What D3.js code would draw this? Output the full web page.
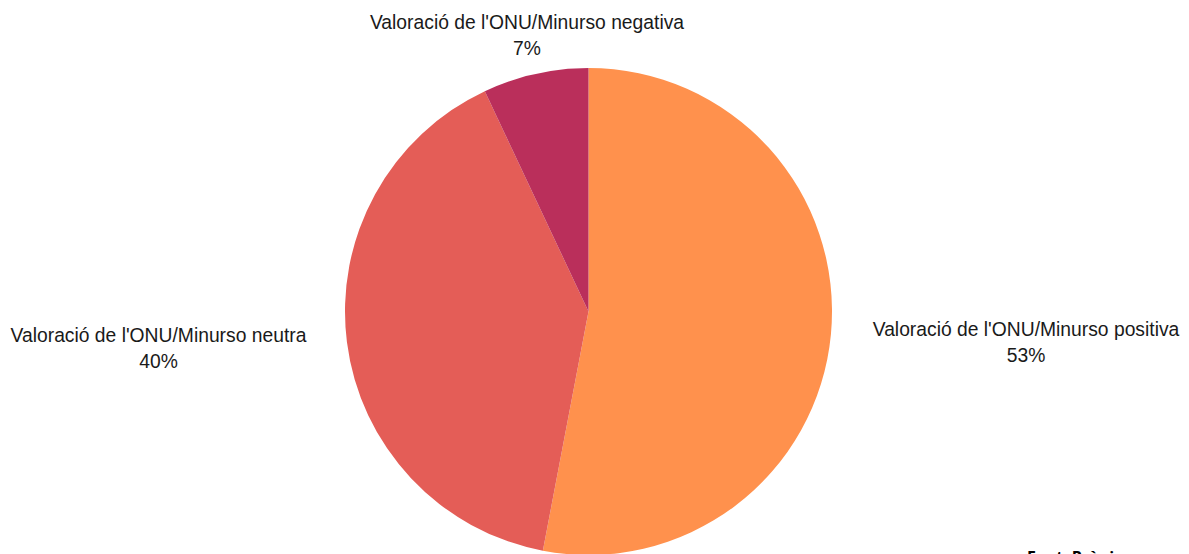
<!DOCTYPE html>
<html>
<head>
<meta charset="utf-8">
<script src="https://cdn.jsdelivr.net/npm/d3@7"></script>
<style>
  html, body { margin: 0; padding: 0; background: #ffffff; }
  svg { display: block; }
</style>
</head>
<body>
<svg id="chart" width="1189" height="554"></svg>
<script>
const categories = [
  "Valoració de l'ONU/Minurso positiva",
  "Valoració de l'ONU/Minurso neutra",
  "Valoració de l'ONU/Minurso negativa"
];
const values = [53, 40, 7];
const colors = ["#FF914D", "#E45D57", "#BA2F5B"];
const footer = "Font: Pròpia";

const svg = d3.select("#chart");
const cx = 588.5, cy = 311.5, r = 243.5;

const data = categories.map((c, i) => ({ name: c, value: values[i], color: colors[i] }));
const pie = d3.pie().value(d => d.value).sort(null);
const arcs = pie(data);
const arc = d3.arc().innerRadius(0).outerRadius(r);

const g = svg.append("g").attr("transform", `translate(${cx},${cy})`);
g.selectAll("path").data(arcs).join("path")
  .attr("d", arc)
  .attr("fill", d => d.data.color);

const labelPos = [
  { x: 1026, y: 336 },
  { x: 158.5, y: 342 },
  { x: 527, y: 29 }
];
const total = d3.sum(values);
const lg = svg.append("g")
  .attr("font-family", "'Liberation Sans', Arial, sans-serif")
  .attr("font-size", 19.3)
  .attr("fill", "#1a1a1a")
  .attr("text-anchor", "middle");
arcs.forEach((a, i) => {
  const p = labelPos[i];
  const t = lg.append("text").attr("x", p.x).attr("y", p.y);
  t.append("tspan").attr("x", p.x).text(a.data.name);
  t.append("tspan").attr("x", p.x).attr("dy", 25.5)
    .text(Math.round(a.data.value / total * 100) + "%");
});

svg.append("text")
  .attr("x", 1027).attr("y", 563)
  .attr("font-family", "'Open Sans', 'Liberation Sans', sans-serif")
  .attr("font-weight", "bold")
  .attr("font-size", 16)
  .attr("fill", "#000")
  .text(footer);
</script>
</body>
</html>
